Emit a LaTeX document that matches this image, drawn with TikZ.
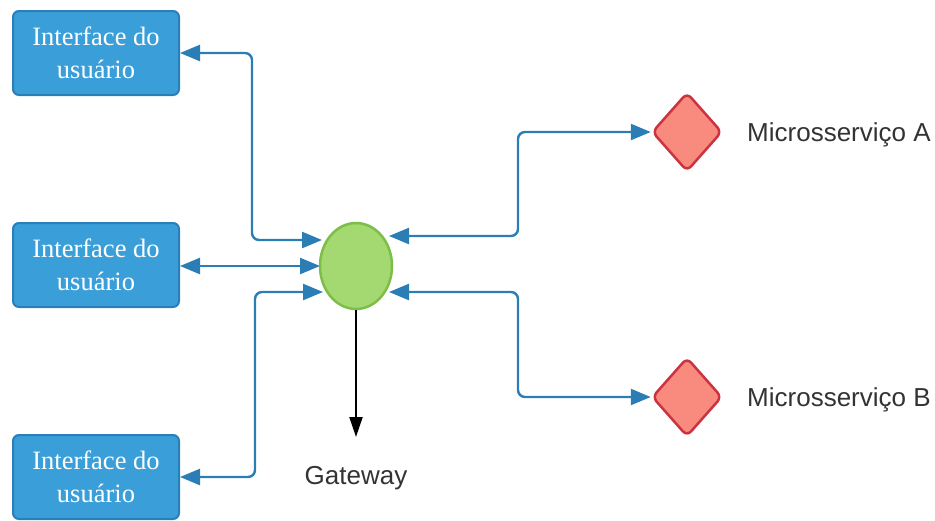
\documentclass[tikz,border=0pt]{standalone}
\usepackage{fontspec}
\setmainfont{Liberation Serif}
\newfontfamily\labelfont{Liberation Sans}
\usetikzlibrary{arrows.meta,shapes.geometric}
\definecolor{boxfill}{HTML}{3A9FD9}
\definecolor{boxline}{HTML}{2A7FB8}
\definecolor{linkblue}{HTML}{2A7DB5}
\definecolor{gwfill}{HTML}{A4D870}
\definecolor{gwline}{HTML}{7DBE48}
\definecolor{msfill}{HTML}{F98A7E}
\definecolor{msline}{HTML}{CC3340}
\definecolor{labelgray}{HTML}{333333}
\tikzset{
  uibox/.style={draw=boxline, fill=boxfill, line width=2pt, rounded corners=6pt,
    minimum width=166pt, minimum height=84pt, align=center, text=white,
    font=\fontsize{26.5}{33}\selectfont, inner sep=0pt},
  gwnode/.style={ellipse, draw=gwline, fill=gwfill, line width=2.5pt,
    minimum width=72pt, minimum height=86pt, inner sep=0pt},
  msnode/.style={diamond, draw=msline, fill=msfill, line width=2.5pt, rounded corners=6pt,
    minimum width=70pt, minimum height=79pt, inner sep=0pt},
  lbl/.style={font=\labelfont\fontsize{26}{30}\selectfont, text=labelgray, inner sep=0pt},
  link/.style={draw=linkblue, line width=2.4pt, rounded corners=7pt,
    {Triangle[length=20pt,width=16pt]}-{Triangle[length=20pt,width=16pt]}},
  gwarrow/.style={draw=black, line width=2pt, -{Triangle[length=20pt,width=13pt]}}
}
\begin{document}
\begin{tikzpicture}[x=1pt,y=-1pt]
  \useasboundingbox (0,0) rectangle (935,520);
  % user interfaces
  \node[uibox] (ui1) at (96,53) {Interface do\\usuário};
  \node[uibox] (ui2) at (96,265) {Interface do\\usuário};
  \node[uibox] (ui3) at (96,477) {Interface do\\usuário};
  % gateway
  \node[gwnode] (gw) at (356,266) {};
  \coordinate (gwend) at (356,437);
  \node[lbl, anchor=base] (gwlbl) at (356,484) {Gateway};
  % microservices
  \node[msnode] (msa) at (687,132) {};
  \node[msnode] (msb) at (687,397) {};
  \node[lbl, anchor=base west] (msalbl) at (747,141) {Microsserviço A};
  \node[lbl, anchor=base west] (msblbl) at (747,406) {Microsserviço B};
  % endpoints on the gateway outline
  \coordinate (gwl1) at (322,240);
  \coordinate (gwl2) at (320,266);
  \coordinate (gwl3) at (323,292);
  \coordinate (gwr1) at (389,236);
  \coordinate (gwr2) at (389,292);
  % connectors
  \draw[link] (ui1.east) -- (252,53) -- (252,240) -- (gwl1);
  \draw[link] (ui2.east |- gwl2) -- (gwl2);
  \draw[link] (ui3.east) -- (255,477) -- (255,292) -- (gwl3);
  \draw[link] (gwr1) -- (518,236) -- (518,132) -- (msa.west);
  \draw[link] (gwr2) -- (518,292) -- (518,397) -- (msb.west);
  \draw[gwarrow] (gw.south) -- (gwend);
\end{tikzpicture}
\end{document}
